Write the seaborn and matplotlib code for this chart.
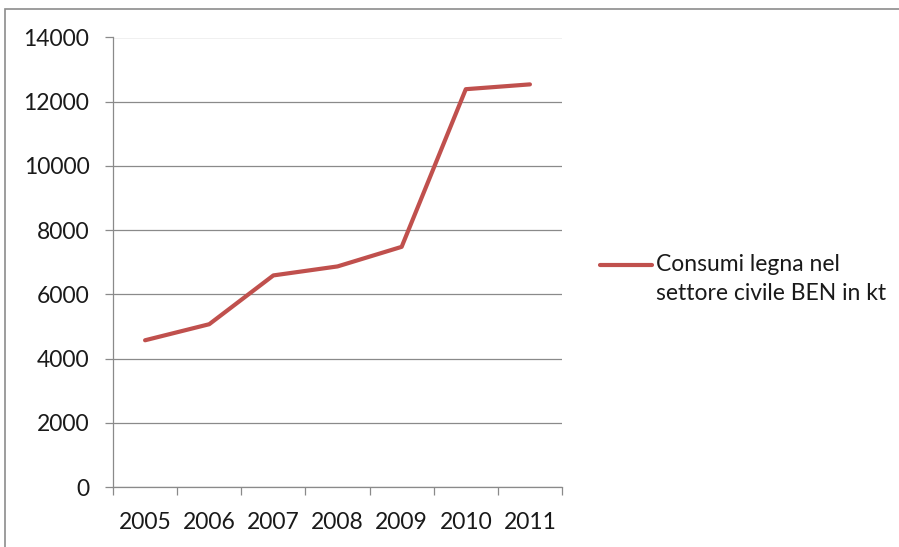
import matplotlib
matplotlib.use("Agg")
import matplotlib.pyplot as plt
import seaborn as sns
import pandas as pd
from matplotlib.patches import Rectangle

years = ["2005", "2006", "2007", "2008", "2009", "2010", "2011"]
values = [4570, 5070, 6590, 6870, 7480, 12390, 12540]
series_label = "Consumi legna nel\nsettore civile BEN in kt"
y_ticks = [0, 2000, 4000, 6000, 8000, 10000, 12000, 14000]

sns.set_theme(style="white")
plt.rcParams["font.family"] = ["Lato", "DejaVu Sans"]

FS = 16.5
df = pd.DataFrame({"pos": range(len(years)), "val": values, "serie": series_label})

fig = plt.figure(figsize=(8.99, 5.47), dpi=100)
ax = fig.add_axes([113 / 899, 1 - 487 / 547, (562 - 113) / 899, (487 - 37.5) / 547])

# chart border
fig.add_artist(Rectangle((5 / 899, -0.1), 1.2, 1 - 9 / 547 + 0.1, transform=fig.transFigure,
                         fill=False, edgecolor="#8c8c8c", linewidth=1.2))

sns.lineplot(data=df, x="pos", y="val", hue="serie", palette=["#C0504D"], linewidth=3.0,
             ax=ax, legend=True)

ax.set_xlim(-0.5, len(years) - 0.5)
ax.set_ylim(0, 14000)
ax.set_yticks(y_ticks)
ax.set_yticklabels([str(v) for v in y_ticks])
ax.yaxis.grid(True, color="#8a8a8a", linewidth=0.9)
ax.set_axisbelow(True)

# category boundaries as major ticks, labels at centers via minor ticks
ax.set_xticks([i - 0.5 for i in range(len(years) + 1)])
ax.set_xticklabels([""] * (len(years) + 1))
ax.set_xticks(list(range(len(years))), minor=True)
ax.set_xticklabels(years, minor=True)
ax.tick_params(axis="x", which="major", direction="out", length=6, width=0.9, color="#8a8a8a", bottom=True)
ax.tick_params(axis="x", which="minor", length=0, pad=18, labelsize=FS, labelcolor="#1a1a1a")
ax.tick_params(axis="y", direction="out", length=6, width=0.9, color="#8a8a8a", left=True,
               labelsize=FS, labelcolor="#1a1a1a", pad=11)

ax.set_xlabel("")
ax.set_ylabel("")
for s in ["top", "right"]:
    ax.spines[s].set_visible(False)
for s in ["left", "bottom"]:
    ax.spines[s].set_color("#8a8a8a")
    ax.spines[s].set_linewidth(0.9)

leg = ax.legend(loc="center left", bbox_to_anchor=(600 / 899, 1 - 279 / 547),
                bbox_transform=fig.transFigure, frameon=False, fontsize=FS,
                handlelength=2.25, handletextpad=0.2, borderpad=0, borderaxespad=0)
for t in leg.get_texts():
    t.set_linespacing(1.5)
    t.set_color("#1a1a1a")
for ln in leg.get_lines():
    yd = ln.get_ydata()
    ln.set_ydata([v + 10.4 for v in yd])

fig.savefig("out.png", dpi=100)
